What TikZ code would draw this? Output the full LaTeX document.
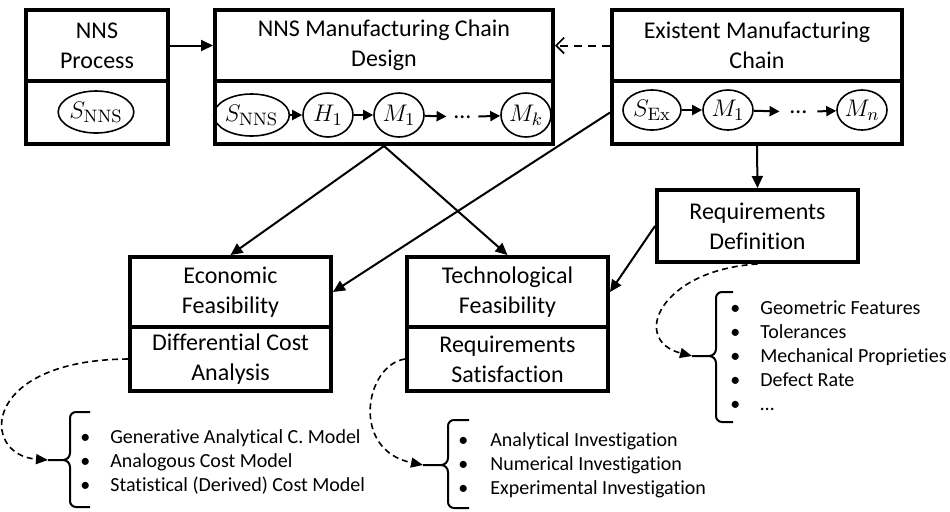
\documentclass[tikz,border=0pt]{standalone}
\usepackage[no-math]{fontspec}
\setmainfont[RawFeature={-liga;-clig;-calt}]{Carlito}
\usetikzlibrary{arrows.meta,shapes.geometric}
\begin{document}
\begin{tikzpicture}[x=0.5pt,y=-0.5pt,
  box/.style={draw, line width=2pt, rectangle, inner sep=0pt, align=center, font=\fontsize{12}{15}\selectfont},
  el/.style={draw, ellipse, line width=0.8pt, inner sep=0pt, font=\fontsize{12.5}{14}\selectfont},
  dotsnode/.style={inner sep=0pt, font=\fontsize{12}{14}\selectfont},
  conn/.style={line width=1pt, -{Triangle[length=6pt,width=5.5pt]}},
  chainarr/.style={line width=1pt, -{Triangle[length=5pt,width=5pt]}},
  dashopen/.style={line width=1pt, dash pattern=on 4pt off 3pt, -{Straight Barb[length=4pt,width=8pt,line width=0.8pt]}},
  dashcurve/.style={line width=0.8pt, dash pattern=on 3pt off 2pt, -{Triangle[length=6pt,width=5pt]}},
  bracepath/.style={line width=1pt},
  listnode/.style={anchor=west, inner sep=0pt, align=left, font=\fontsize{10}{12}\selectfont}
]
\useasboundingbox[fill=white] (0,0) rectangle (950,511);

% NNS Process
\node[box, minimum width=71pt, minimum height=35.5pt] (nnsT) at (97,45.5) {NNS\\Process};
\node[box, minimum width=71pt, minimum height=31.5pt] (nnsB) at (97,112.5) {};
\node[el, minimum width=30.5pt, minimum height=21pt] (nnsS) at (96,112) {$S_{\mathrm{NNS}}$};

% NNS Manufacturing Chain Design
\node[box, minimum width=169pt, minimum height=35.5pt] (desT) at (384,45.5) {NNS Manufacturing Chain\\Design};
\node[box, minimum width=169pt, minimum height=31.5pt] (desB) at (384,112.5) {};
\node[el, minimum width=29.5pt, minimum height=21pt] (d1) at (251.5,115) {$S_{\mathrm{NNS}}$};
\node[el, minimum width=25pt, minimum height=22pt] (d2) at (328,115) {$H_1$};
\node[el, minimum width=25pt, minimum height=22pt] (d3) at (399,115) {$M_1$};
\node[dotsnode, minimum width=15.5pt] (d4) at (462.5,117) {…};
\node[el, minimum width=25pt, minimum height=22pt] (d5) at (526,115) {$M_k$};
\draw[chainarr] (d1) -- (d2);
\draw[chainarr] (d2) -- (d3);
\draw[chainarr] (d3) -- (d4);
\draw[chainarr] (d4) -- (d5);

% Existent Manufacturing Chain
\node[box, minimum width=145pt, minimum height=35.5pt] (exT) at (757,45.5) {Existent Manufacturing\\Chain};
\node[box, minimum width=145pt, minimum height=31.5pt] (exB) at (757,112.5) {};
\node[el, minimum width=29pt, minimum height=20pt] (e1) at (652,110) {$S_{\mathrm{Ex}}$};
\node[el, minimum width=25pt, minimum height=20pt] (e2) at (728,110) {$M_1$};
\node[dotsnode, minimum width=18.5pt] (e3) at (798.5,112) {…};
\node[el, minimum width=25pt, minimum height=20pt] (e4) at (862,110) {$M_n$};
\draw[chainarr] (e1) -- (e2);
\draw[chainarr] (e2) -- (e3);
\draw[chainarr] (e3) -- (e4);

% Requirements Definition
\node[box, minimum width=100.5pt, minimum height=36pt] (rd) at (757.5,226) {Requirements\\Definition};

% Economic Feasibility
\node[box, minimum width=100.5pt, minimum height=35pt] (ecoT) at (230.5,292) {Economic\\Feasibility};
\node[box, minimum width=100.5pt, minimum height=32pt] (ecoB) at (230.5,359) {Differential Cost\\Analysis};

% Technological Feasibility
\node[box, minimum width=100.5pt, minimum height=35pt] (techT) at (507.5,292) {Technological\\Feasibility};
\node[box, minimum width=100.5pt, minimum height=32pt] (techB) at (507.5,359) {Requirements\\Satisfaction};

% main connectors
\draw[conn] (nnsT.east) -- (desT.west);
\draw[dashopen] (exT.west) -- (desT.east);
\draw[conn] (desB.south) -- (ecoT.north);
\draw[conn] (desB.south) -- (techT.north);
\draw[conn] (exB.west) -- (ecoT.east);
\draw[conn] (exB.south) -- (rd.north);
\draw[conn] (rd.west) -- (techT.east);

% lists
\node[listnode] (ecoL) at (80,462) {\makebox[15pt][l]{•}Generative Analytical C. Model\\\makebox[15pt][l]{•}Analogous Cost Model\\\makebox[15pt][l]{•}Statistical (Derived) Cost Model};
\node[listnode] (techL) at (458,465) {\makebox[16pt][l]{•}Analytical Investigation\\\makebox[16pt][l]{•}Numerical Investigation\\\makebox[16pt][l]{•}Experimental Investigation};
\node[listnode] (rdL) at (730,356) {\makebox[15pt][l]{•}Geometric Features\\\makebox[15pt][l]{•}Tolerances\\\makebox[15pt][l]{•}Mechanical Proprieties\\\makebox[15pt][l]{•}Defect Rate\\\makebox[15pt][l]{•}…};

% braces and their tails
\coordinate (ecoTail) at (48,460);
\coordinate (techTail) at (423,465);
\coordinate (rdTail) at (692,356);
\draw[bracepath] (90,412) -- (76,412) to[out=180,in=90] (70,418) -- (70,453) to[out=-90,in=0] (63,460) -- (ecoTail);
\draw[bracepath] (90,507) -- (76,507) to[out=180,in=-90] (70,501) -- (70,467) to[out=90,in=0] (63,460);
\draw[bracepath] (469,420) -- (454,420) to[out=180,in=90] (448,426) -- (448,458) to[out=-90,in=0] (441,465) -- (techTail);
\draw[bracepath] (469,508) -- (454,508) to[out=180,in=-90] (448,502) -- (448,472) to[out=90,in=0] (441,465);
\draw[bracepath] (733,292) -- (722,292) to[out=180,in=90] (716,298) -- (716,349) to[out=-90,in=0] (709,356) -- (rdTail);
\draw[bracepath] (733,422) -- (722,422) to[out=180,in=-90] (716,416) -- (716,363) to[out=90,in=0] (709,356);

% dashed curved arrows
\draw[dashcurve] (ecoB.west) .. controls (-20,360) and (-20,455) .. (ecoTail);
\draw[dashcurve] (techB.west) .. controls (365,365) and (350,450) .. (techTail);
\draw[dashcurve] (rd.south) .. controls (660,270) and (630,340) .. (rdTail);
\end{tikzpicture}
\end{document}
